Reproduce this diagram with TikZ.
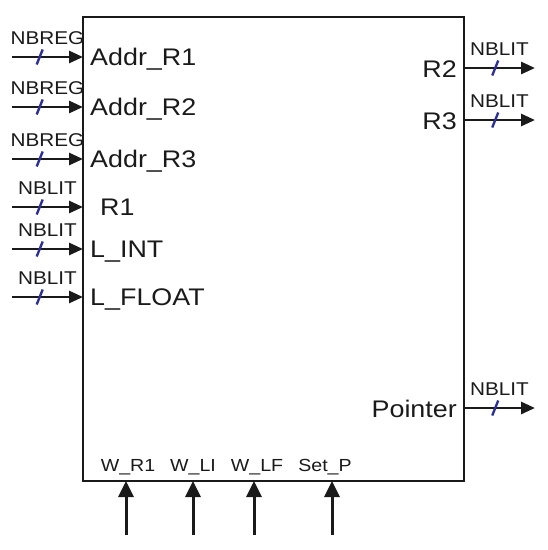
\documentclass[tikz,border=0pt]{standalone}
\usepackage{fontspec}
\setmainfont[FakeStretch=1.12]{Liberation Sans}
\usetikzlibrary{arrows.meta,positioning}
\definecolor{pintext}{HTML}{1A1A1A}
\definecolor{slashblue}{HTML}{2E3192}

\begin{document}
\begin{tikzpicture}[x=1pt,y=-1pt,
    busarrow/.style={-{Triangle[length=14pt,width=12pt]},line width=2.8pt,pintext},
    ctlarrow/.style={-{Triangle[length=16pt,width=15pt]},line width=3pt,pintext},
    busslash/.style={slashblue,line width=2.4pt},
    buslbl/.style={above=11pt,inner sep=0pt,font=\fontsize{18.5}{22}\selectfont,text=pintext},
    sig/.style={inner sep=0pt,font=\fontsize{24}{28}\selectfont,text=pintext},
    ctlsig/.style={inner sep=0pt,font=\fontsize{17.5}{20}\selectfont,text=pintext}]
  \useasboundingbox (0,0) rectangle (548,550);
  \node[draw=pintext,line width=1.8pt,outer sep=0pt,inner sep=0pt,
    minimum width=381pt,minimum height=464pt,anchor=north west] (blk) at (83,17) {};
  % inputs on the left
  \foreach \y/\bus/\sig/\dx [count=\i] in {57/NBREG/Addr\_R1/0, 107/NBREG/Addr\_R2/0,
      159/NBREG/Addr\_R3/0, 207/NBLIT/R1/10, 249/NBLIT/L\_INT/0, 297/NBLIT/L\_FLOAT/0} {
    \coordinate (in\i) at (12,\y);
    \coordinate (inE\i) at (in\i -| blk.west);
    \draw[busarrow] (in\i) -- (inE\i) node[midway,buslbl]{\bus} coordinate[pos=0.39] (sl\i);
    \draw[busslash] ([shift={(-3,7.5)}]sl\i) -- ([shift={(3,-7.5)}]sl\i);
    \node[sig,anchor=base west] (s\i) at ([shift={(7+\dx,8)}]inE\i) {\sig};
  }
  % outputs on the right
  \foreach \y/\sig [count=\i] in {68/R2, 120/R3, 408/Pointer} {
    \coordinate (out\i) at (535,\y);
    \coordinate (outS\i) at (out\i -| blk.east);
    \draw[busarrow] (outS\i) -- (out\i) node[midway,buslbl]{NBLIT} coordinate[pos=0.44] (so\i);
    \draw[busslash] ([shift={(-3,7.5)}]so\i) -- ([shift={(3,-7.5)}]so\i);
    \node[sig,anchor=base east] (r\i) at ([shift={(-7,9)}]outS\i) {\sig};
  }
  % control lines at the bottom
  \foreach \x/\lx/\sig [count=\i] in {126/128/W\_R1, 193/193/W\_LI, 254/257/W\_LF, 332/325/Set\_P} {
    \coordinate (ctl\i) at (\x,535);
    \draw[ctlarrow] (ctl\i) -- (ctl\i |- blk.south);
    \node[ctlsig,anchor=base] (c\i) at (\lx,471) {\sig};
  }
\end{tikzpicture}
\end{document}
